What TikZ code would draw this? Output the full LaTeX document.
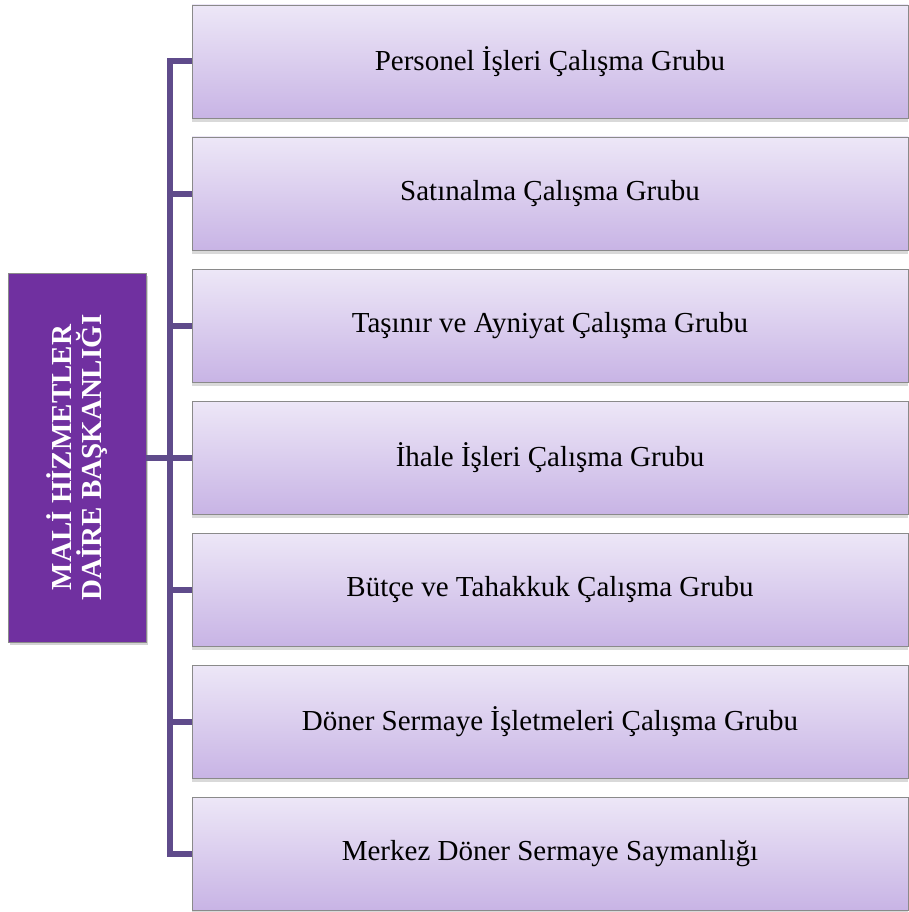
\documentclass[tikz,border=0pt]{standalone}
\usepackage{fontspec}
\setmainfont{Liberation Serif}
\usepackage{tikz}
\usetikzlibrary{positioning,shadows}

\definecolor{headpurple}{HTML}{7030A0}
\definecolor{linkpurple}{HTML}{5F4B8B}
\definecolor{boxtop}{HTML}{EDE7F7}
\definecolor{boxbottom}{HTML}{C8B4E5}
\definecolor{boxedge}{HTML}{8A8A8A}

\begin{document}
\begin{tikzpicture}[x=1pt,y=-1pt,
  head/.style={draw=boxedge,fill=headpurple,text=white,minimum width=138pt,minimum height=369pt,
    font=\fontsize{29}{30}\selectfont\bfseries,
    drop shadow={shadow xshift=2pt,shadow yshift=-3pt,opacity=0.35}},
  group/.style={draw=boxedge,top color=boxtop,bottom color=boxbottom,minimum width=716pt,minimum height=113pt,
    font=\fontsize{29}{34}\selectfont,
    drop shadow={shadow xshift=0pt,shadow yshift=-4pt,opacity=0.3}},
  link/.style={draw=linkpurple,line width=6pt}
]
\useasboundingbox (0,0) rectangle (909,912);

\node[head] (dept) at (77,457.5) {};
\node[rotate=90,align=center,text=white,font=\fontsize{29}{30}\selectfont\bfseries] (depttext) at (dept.center) {MALİ HİZMETLER\\DAİRE BAŞKANLIĞI};

\node[group] (g1) at (550,61.5) {Personel İşleri Çalışma Grubu};
\node[group] (g2) at (550,193.5) {Satınalma Çalışma Grubu};
\node[group] (g3) at (550,325.5) {Taşınır ve Ayniyat Çalışma Grubu};
\node[group] (g4) at (550,457.5) {İhale İşleri Çalışma Grubu};
\node[group] (g5) at (550,589.5) {Bütçe ve Tahakkuk Çalışma Grubu};
\node[group] (g6) at (550,721.5) {Döner Sermaye İşletmeleri Çalışma Grubu};
\node[group] (g7) at (550,853.5) {Merkez Döner Sermaye Saymanlığı};

% bus line
\coordinate (bus) at (170,0);
\draw[link] (g1.west) -- (g1.west -| bus) -- (g7.west -| bus) -- (g7.west);
\draw[link] (g2.west) -- (g2.west -| bus);
\draw[link] (g3.west) -- (g3.west -| bus);
\draw[link] (g4.west) -- (g4.west -| bus);
\draw[link] (g5.west) -- (g5.west -| bus);
\draw[link] (g6.west) -- (g6.west -| bus);
\draw[link] (dept.east) -- (dept.east -| bus);
\end{tikzpicture}
\end{document}
